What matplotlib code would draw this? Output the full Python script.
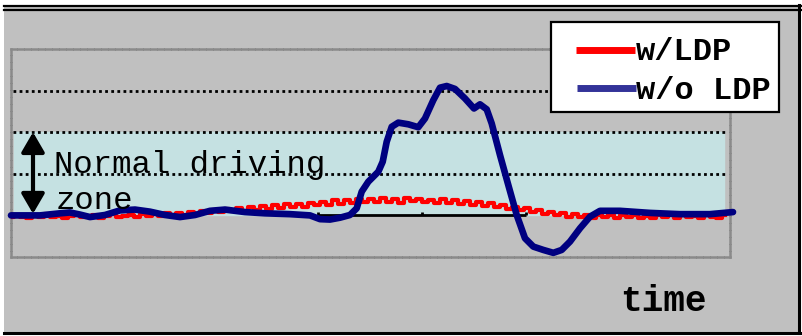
import numpy as np
import matplotlib.pyplot as plt
from matplotlib.patches import Rectangle, FancyArrowPatch
from matplotlib.lines import Line2D

# time axis in samples, lateral offset in lane units
blue_t = [0, 29, 49, 59, 69, 79, 94, 109, 124, 139, 154, 169, 184, 199, 214, 234, 254,
          279, 299, 309, 319, 329, 339, 345.7, 350.7, 357.3, 367.3, 371.7, 375.7, 380.7,
          387.3, 397.3, 407.3, 414, 422.3, 429, 435.7, 444, 454, 463, 469, 475.7, 480.7,
          489, 497.3, 505.7, 514, 522.3, 532.3, 542.3, 550.7, 559, 569, 579, 589, 609,
          639, 669, 699, 722]
blue_v = [0.00, 0.00, 0.05, 0.07, 0.02, -0.04, 0.01, 0.12, 0.14, 0.09, 0.01, -0.04, 0.01,
          0.11, 0.14, 0.08, 0.05, 0.03, 0.00, -0.09, -0.10, -0.055, 0.01, 0.17, 0.57, 0.81,
          1.05, 1.29, 1.77, 2.13, 2.23, 2.19, 2.12, 2.33, 2.77, 3.07, 3.11, 3.04, 2.81, 2.57,
          2.67, 2.55, 2.21, 1.45, 0.73, 0.01, -0.55, -0.75, -0.83, -0.90, -0.83, -0.63,
          -0.31, -0.03, 0.11, 0.11, 0.06, 0.03, 0.03, 0.08]

red_t = list(range(0, 720, 6))
red_v = [-0.05, 0.01, -0.03, -0.07, 0.00, -0.04, 0.03, -0.05, -0.01, -0.07,
         -0.02, 0.02, -0.05, -0.02, 0.00, -0.07, -0.01, 0.03, -0.04, -0.02,
         0.01, -0.04, 0.04, -0.02, 0.03, -0.01, 0.05, 0.00, 0.06, 0.01,
         0.08, 0.03, 0.10, 0.05, 0.13, 0.07, 0.15, 0.10, 0.17, 0.11,
         0.19, 0.13, 0.22, 0.16, 0.24, 0.18, 0.27, 0.20, 0.28, 0.21,
         0.31, 0.24, 0.33, 0.26, 0.36, 0.28, 0.37, 0.30, 0.40, 0.32,
         0.40, 0.32, 0.41, 0.33, 0.39, 0.31, 0.41, 0.34, 0.40, 0.32,
         0.38, 0.31, 0.39, 0.29, 0.36, 0.28, 0.34, 0.26, 0.32, 0.23,
         0.29, 0.20, 0.25, 0.16, 0.21, 0.12, 0.17, 0.08, 0.13, 0.04,
         0.09, 0.01, 0.06, -0.03, 0.04, -0.05, 0.02, -0.06, 0.01, -0.05,
         0.01, -0.07, 0.00, -0.05, 0.02, -0.06, -0.01, -0.07, 0.01, -0.05,
         0.00, -0.06, 0.02, -0.05, -0.01, -0.07, 0.01, -0.04, -0.06, 0.00]

grid_levels = [1, 2, 3]
zone = (0, 2)
axis_ticks = [307, 411, 515]

W, H = 803, 336
fig = plt.figure(figsize=(W / 100, H / 100), dpi=100)
fig.patch.set_facecolor('white')


def px(x, y):
    return x / W, 1 - y / H


# grey slide background and frame
fig.patches.append(Rectangle(px(4, 333), 797 / W, 328 / H, transform=fig.transFigure,
                             facecolor='#c0c0c0', edgecolor='none', zorder=-5))
for (x0, y0, x1, y1, lw) in [(4, 5.5, 801, 5.5, 1.6), (4, 9.8, 801, 9.8, 1.6),
                             (799.5, 5, 799.5, 333, 2.2), (4, 333, 801, 333, 2.2)]:
    a, b = px(x0, y0)
    c, d = px(x1, y1)
    fig.add_artist(Line2D([a, c], [b, d], transform=fig.transFigure, color='black', lw=lw))

ax = fig.add_axes([11 / W, (336 - 257) / H, 719 / W, 208 / H])
ax.set_zorder(1)
ax.set_facecolor('none')
ax.set_xlim(0, 719)
ax.set_ylim(-1.0, 4.0)
ax.set_xticks([]); ax.set_yticks([])
for s in ax.spines.values():
    s.set_color('#8a8a8a'); s.set_linewidth(1.8); s.set_linestyle((0, (2, 0.8)))

ax.axhspan(zone[0], zone[1], xmin=3 / 719, xmax=713 / 719, color='#c5e1e2', zorder=1)
for g in grid_levels:
    ax.axhline(g, xmin=2 / 719, xmax=717 / 719, color='black', lw=2.0,
               linestyle=(0, (1, 1.2)), zorder=2)

ax.hlines(0, axis_ticks[0], axis_ticks[-1], color='black', lw=2, zorder=2)
ax.vlines(axis_ticks, 0, 0.07, color='black', lw=2, zorder=2)

ax.plot(red_t, red_v, color='red', lw=3.0, zorder=3, drawstyle='steps-mid')
ax.plot(blue_t, blue_v, color='#000080', lw=4.8, zorder=4, clip_on=False,
        solid_capstyle='round', solid_joinstyle='round')

arr = FancyArrowPatch((22, 0.04), (22, 2.0), arrowstyle='<|-|>,head_length=0.6,head_width=0.35',
                      mutation_scale=20, color='black', lw=3, shrinkA=0, shrinkB=0, zorder=5)
ax.add_patch(arr)

mono = 'Liberation Mono'
fig.text(*px(54, 173), 'Normal driving', family=mono, fontsize=23.3, ha='left', va='baseline', zorder=5)
fig.text(*px(56, 209), 'zone', family=mono, fontsize=23.3, ha='left', va='baseline', zorder=5)
fig.text(*px(620, 311), 'time', family=mono, fontsize=26, weight='bold', ha='left', va='baseline')

# legend box
fig.patches.append(Rectangle(px(551, 112), 228 / W, 90 / H, transform=fig.transFigure,
                             facecolor='white', edgecolor='black', lw=1.6, zorder=6))
for (x0, x1, y, col) in [(576, 635, 50, 'red'), (577, 636, 88, '#333399')]:
    a, b = px(x0, y)
    c, _ = px(x1, y)
    fig.add_artist(Line2D([a, c], [b, b], transform=fig.transFigure, color=col, lw=5,
                          solid_capstyle='butt', zorder=7))
fig.text(*px(636, 60), 'w/LDP', family=mono, fontsize=23, weight='bold',
         ha='left', va='baseline', zorder=7)
fig.text(*px(636, 99), 'w/o LDP', family=mono, fontsize=23, weight='bold',
         ha='left', va='baseline', zorder=7)

fig.savefig('out.png', dpi=100)
